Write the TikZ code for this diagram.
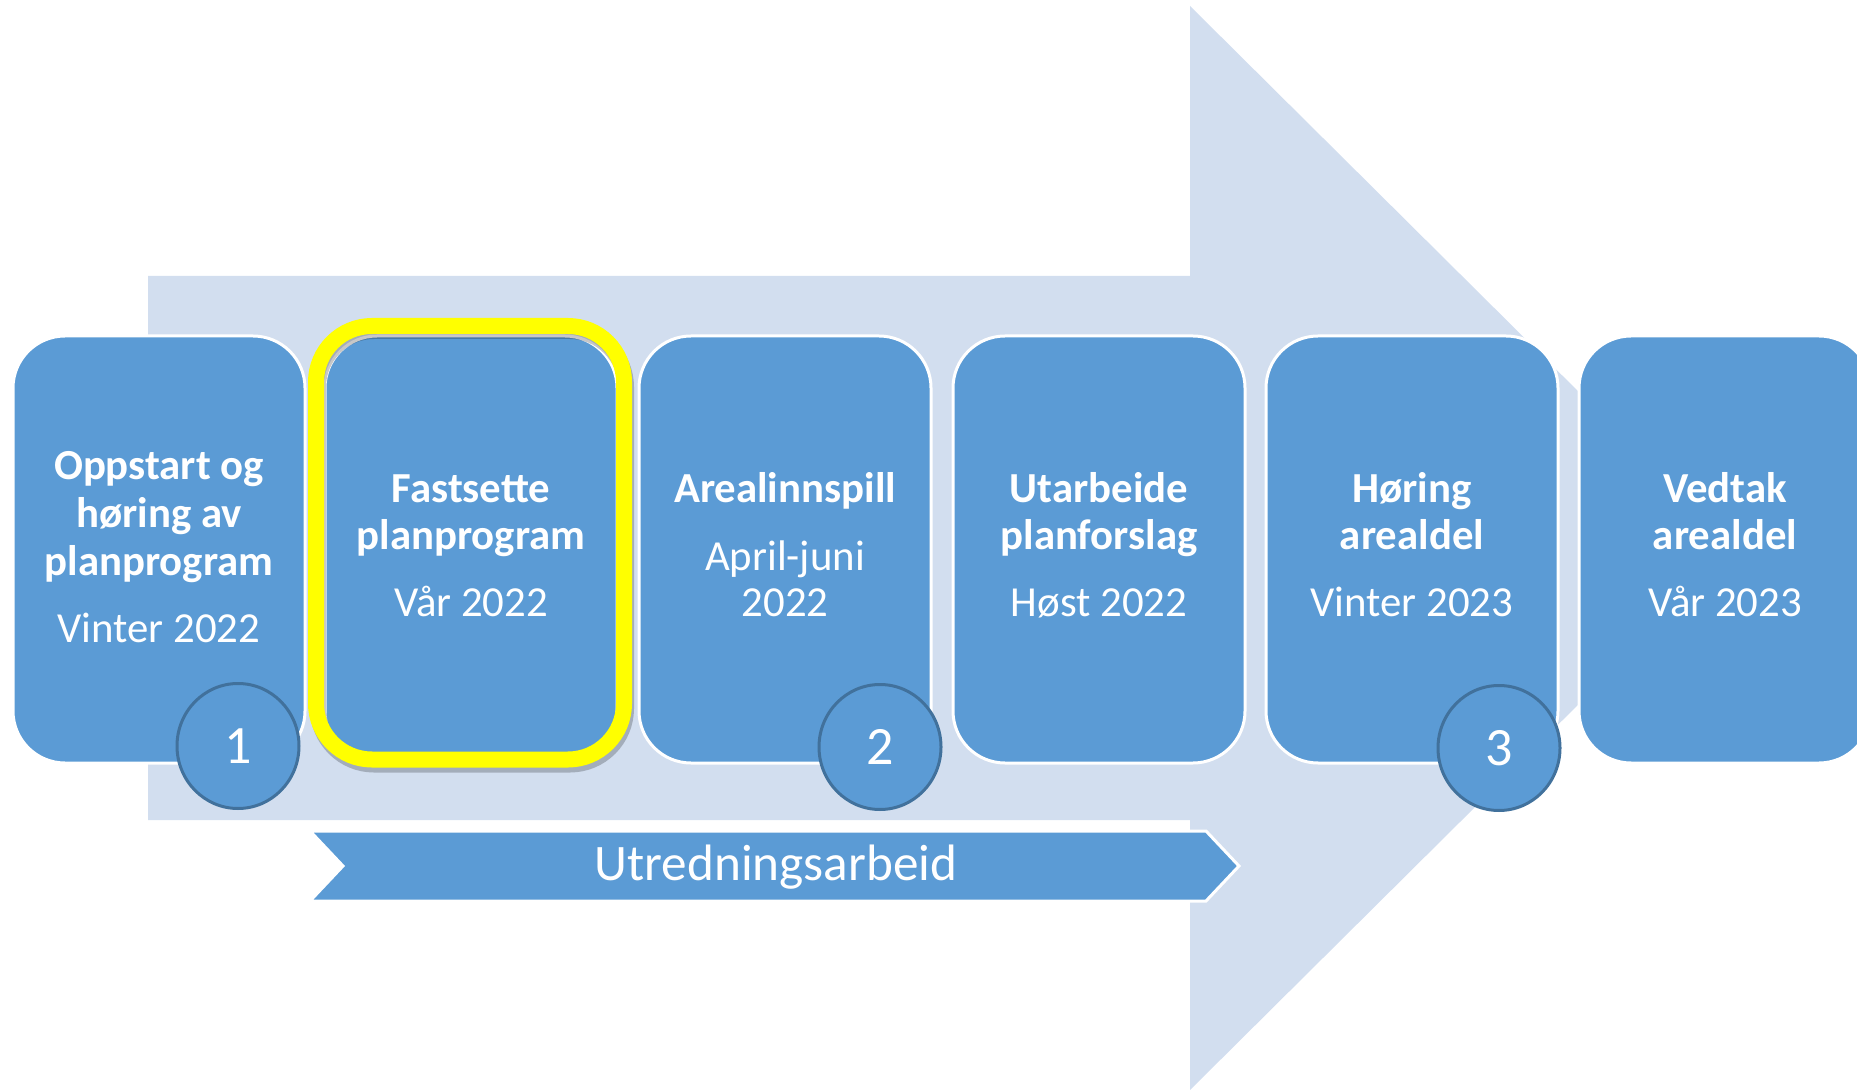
\documentclass[tikz,border=0pt]{standalone}
\usepackage{fontspec}
\setmainfont{Carlito}
\usetikzlibrary{shapes.geometric}
\definecolor{boxblue}{RGB}{91,155,213}
\definecolor{lightarrow}{RGB}{210,222,239}
\definecolor{ringblue}{RGB}{65,113,156}
\definecolor{hlyellow}{RGB}{255,255,0}
\tikzset{
  stepbox/.style={draw=white, line width=1.5pt, fill=boxblue, rounded corners=26pt,
    minimum width=146pt, minimum height=213.5pt, inner sep=0pt},
  numring/.style={ellipse, draw=ringblue, line width=1.5pt, fill=boxblue,
    minimum width=61pt, minimum height=62.5pt, inner sep=0pt, text=white,
    font=\fontsize{27}{30}\selectfont},
  titletext/.style={anchor=base, text=white, inner sep=0pt,
    font=\fontsize{21.4}{23.5}\selectfont\bfseries},
  datetext/.style={anchor=base, text=white, inner sep=0pt,
    font=\fontsize{21.4}{23.5}\selectfont},
  hlframe/.style={draw=hlyellow, line width=8pt, rounded corners=28pt,
    minimum width=154pt, minimum height=216.75pt, inner sep=0pt},
  hlshadow/.style={draw=black, draw opacity=0.22, line width=8pt, rounded corners=28pt,
    minimum width=154pt, minimum height=216.75pt, inner sep=0pt},
  bandtext/.style={anchor=base, text=white, inner sep=0pt,
    font=\fontsize{25.6}{28}\selectfont}
}
\begin{document}
\begin{tikzpicture}[x=0.5pt, y=-0.5pt]
\useasboundingbox (0,0) rectangle (1857,1090);
\clip (0,0) rectangle (1857,1090);
% big background arrow
\fill[lightarrow] (148,276) -- (1190,276) -- (1190,6) -- (1736,548) -- (1190,1090)
  -- (1190,820) -- (148,820) -- cycle;
% step boxes
\node[stepbox] (b1) at (159,549.5) {};
\node[stepbox] (b2) at (471,549.5) {};
\node[stepbox] (b3) at (785,549.5) {};
\node[stepbox] (b4) at (1099,549.5) {};
\node[stepbox] (b5) at (1412,549.5) {};
\node[stepbox] (b6) at (1725,549.5) {};
% texts
\node[titletext] (t1a) at (159,480) {Oppstart og};
\node[titletext] (t1b) at (159,528) {høring av};
\node[titletext] (t1c) at (159,575) {planprogram};
\node[datetext]  (d1)  at (159,642) {Vinter 2022};
\node[titletext] (t2a) at (471,503) {Fastsette};
\node[titletext] (t2b) at (471,550) {planprogram};
\node[datetext]  (d2)  at (471,617) {Vår 2022};
\node[titletext] (t3a) at (785,503) {Arealinnspill};
\node[datetext]  (d3a) at (785,570) {April-juni};
\node[datetext]  (d3b) at (785,617) {2022};
\node[titletext] (t4a) at (1099,503) {Utarbeide};
\node[titletext] (t4b) at (1099,550) {planforslag};
\node[datetext]  (d4)  at (1099,617) {Høst 2022};
\node[titletext] (t5a) at (1412,503) {Høring};
\node[titletext] (t5b) at (1412,550) {arealdel};
\node[datetext]  (d5)  at (1412,617) {Vinter 2023};
\node[titletext] (t6a) at (1725,503) {Vedtak};
\node[titletext] (t6b) at (1725,550) {arealdel};
\node[datetext]  (d6)  at (1725,617) {Vår 2023};
% number rings
\node[numring] (c1) at (238,746) {1};
\node[numring] (c2) at (880,747) {2};
\node[numring] (c3) at (1499,748) {3};
% highlight frame with soft shadow
\node[hlshadow] (hls) at (472,547.75) {};
\node[hlframe] (hl) at (470,542.75) {};
% chevron band
\fill[boxblue, draw=white, line width=1.5pt] (310,831) -- (1206,831) -- (1239,866)
  -- (1206,901) -- (310,901) -- (343,866) -- cycle;
\node[bandtext] (band) at (776,880) {Utredningsarbeid};
\end{tikzpicture}
\end{document}
